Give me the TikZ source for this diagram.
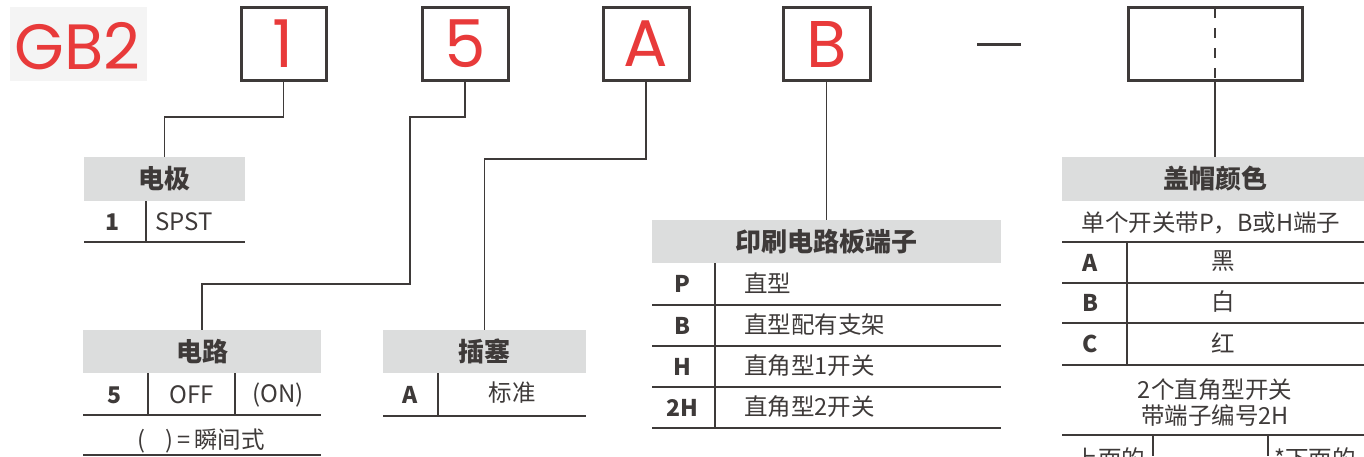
\documentclass[tikz,border=0pt]{standalone}
\usepackage{fontspec}
\setmainfont{Noto Sans CJK SC}
\newfontfamily\redfont{Poppins}
\usetikzlibrary{calc}
\definecolor{redc}{HTML}{E83A3A}
\definecolor{hdrgray}{HTML}{DCDDDD}
\definecolor{linec}{HTML}{3E3A39}
\definecolor{bggray}{HTML}{F4F4F4}
\tikzset{
  codebox/.style={draw=linec, line width=3pt, minimum height=73pt, inner sep=0pt, text=redc, font=\redfont\fontsize{66}{66}\selectfont},
  hdr/.style={fill=hdrgray, inner sep=0pt, text=linec, font=\bfseries\fontsize{26}{26}\selectfont},
  conn/.style={draw=linec, line width=1.5pt},
  tline/.style={draw=linec, line width=1.5pt},
  code/.style={text=linec, inner sep=0pt, font=\bfseries\fontsize{23}{23}\selectfont},
  body/.style={text=linec, inner sep=0pt, font=\fontsize{24}{24}\selectfont},
  zh/.style={text=linec, inner sep=0pt, font=\fontsize{23.5}{23.5}\selectfont},
}
\begin{document}
\begin{tikzpicture}[x=1pt,y=-1pt]
\useasboundingbox (0,0) rectangle (1364,456);
\clip (0,0) rectangle (1364,456);
% GB2
\node[fill=bggray, minimum width=137pt, minimum height=74pt, inner sep=0pt] (gbbg) at (78.5,44) {};
\node[text=redc, inner sep=0pt, font=\redfont\fontsize{64}{64}\selectfont] (gb) at (77.5,46) {GB2};
% code boxes
\node[codebox, minimum width=85pt] (b1) at (283.5,44) {1};
\node[codebox, minimum width=86pt] (b5) at (465,44) {5};
\node[codebox, minimum width=86pt] (bA) at (646,44) {A};
\node[codebox, minimum width=87pt] (bB) at (826.5,44) {B};
\node[draw=linec, line width=3pt, minimum width=174pt, minimum height=73pt, inner sep=0pt] (bR) at (1215,44) {};
\draw[linec, line width=1.5pt, dash pattern=on 10pt off 10pt, dash phase=-2pt] (bR.north) -- (bR.south);
% dash
\coordinate (d1) at (977,44);
\coordinate (d2) at (1021,44);
\draw[linec, line width=3pt] (d1) -- (d2);
% headers
\node[hdr, minimum width=161pt, minimum height=44pt] (h1) at (164.5,179) {电极};
\node[hdr, minimum width=238pt, minimum height=43pt] (h2) at (202,351.5) {电路};
\node[hdr, minimum width=203pt, minimum height=43pt] (h3) at (484.5,351.5) {插塞};
\node[hdr, minimum width=349pt, minimum height=43pt] (h4) at (826.5,241.5) {印刷电路板端子};
\node[hdr, minimum width=306pt, minimum height=44pt] (h5) at (1215,179) {盖帽颜色};
% connectors
\coordinate (k5) at (410,284);
\draw[conn] (b1.south) -- ++(0,35) -| (h1.north);
\draw[conn] (b5.south) -- ++(0,35) -| (k5) -| (h2.north);
\draw[conn] (bA.south) -- ++(0,77) -| (h3.north);
\draw[conn] (bB.south) -- (h4.north);
\draw[conn] (bR.south) -- (h5.north);
% table 1
\node[code] (t1c) at (113,222) {1};
\node[body, anchor=west] (t1t) at (155,222) {SPST};
\draw[tline] (146,201) -- (146,242);
\draw[tline] (84,242) -- (245,242);
% table 2
\node[code] (t2c) at (115,395) {5};
\node[body] (t2a) at (192,395) {OFF};
\node[body] (t2b) at (278,395) {(ON)};
\draw[tline] (148,373) -- (148,415);
\draw[tline] (235,373) -- (235,415);
\draw[tline] (83,415) -- (321,415);
\node[zh] (t2n) at (201,441) {(\hspace{20pt})\,=\,瞬间式};
\draw[tline] (83,455) -- (321,455);
% table 3
\node[code] (t3c) at (410,395) {A};
\node[zh] (t3t) at (512,393) {标准};
\draw[tline] (438,373) -- (438,416);
\draw[tline] (383,416) -- (586,416);
% table 4
\draw[tline] (715,263) -- (715,428);
\foreach \yy in {305,346,387,428} { \draw[tline] (652,\yy) -- (1001,\yy); }
\node[code] (p1) at (682,284) {P};
\node[code] (p2) at (682,325.5) {B};
\node[code] (p3) at (682,366.5) {H};
\node[code] (p4) at (682,407.5) {2H};
\node[zh, anchor=west] (q1) at (744,283) {直型};
\node[zh, anchor=west] (q2) at (744,324.5) {直型配有支架};
\node[zh, anchor=west] (q3) at (744,365.5) {直角型1开关};
\node[zh, anchor=west] (q4) at (744,406.5) {直角型2开关};
% table 5
\node[zh] (s1) at (1211,223) {单个开关带P，B或H端子};
\draw[tline] (1062,242) -- (1364,242);
\draw[tline] (1127,242) -- (1127,365);
\foreach \yy in {283,323,365} { \draw[tline] (1062,\yy) -- (1364,\yy); }
\node[code] (c1) at (1090,262.5) {A};
\node[code] (c2) at (1090,303) {B};
\node[code] (c3) at (1090,344) {C};
\node[zh] (e1) at (1223,261.5) {黑};
\node[zh] (e2) at (1223,302) {白};
\node[zh] (e3) at (1223,343) {红};
\node[zh] (s2) at (1215,390) {2个直角型开关};
\node[zh] (s3) at (1215,416) {带端子编号2H};
\draw[tline] (1062,435) -- (1364,435);
\draw[tline] (1153,435) -- (1153,456);
\draw[tline] (1268,435) -- (1268,456);
\node[zh] (u1) at (1110,459) {上面的};
\node[zh, anchor=west] (u2) at (1274,459) {*下面的};
\end{tikzpicture}
\end{document}
